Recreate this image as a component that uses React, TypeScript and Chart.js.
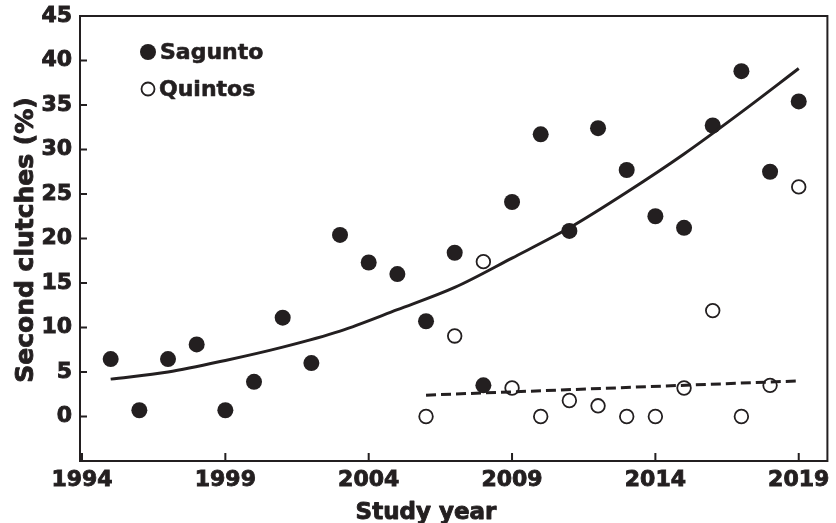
import React, { useEffect, useRef } from 'react';
import { Chart, registerables } from 'chart.js';

Chart.register(...registerables);

// ---- Data ----
const saguntoYears = [1995, 1996, 1997, 1998, 1999, 2000, 2001, 2002, 2003, 2004, 2005, 2006, 2007, 2008, 2009, 2010, 2011, 2012, 2013, 2014, 2015, 2016, 2017, 2018, 2019];
const saguntoValues = [6.45, 0.7, 6.45, 8.1, 0.7, 3.9, 11.1, 6.0, 20.4, 17.3, 16.0, 10.7, 18.4, 3.5, 24.1, 31.7, 20.85, 32.4, 27.7, 22.5, 21.2, 32.7, 38.8, 27.5, 35.4];

const quintosYears = [2006, 2007, 2008, 2009, 2010, 2011, 2012, 2013, 2014, 2015, 2016, 2017, 2018, 2019];
const quintosValues = [0, 9.05, 17.4, 3.2, 0, 1.8, 1.2, 0, 0, 3.2, 11.9, 0, 3.5, 25.8];

const saguntoTrendYears = [1995, 1997, 1999, 2001, 2003, 2005, 2007, 2009, 2011, 2013, 2015, 2017, 2019];
const saguntoTrendValues = [4.2, 5.0, 6.3, 7.8, 9.6, 12.0, 14.5, 17.8, 21.2, 25.2, 29.5, 34.2, 39.1];

const quintosTrendYears = [2006, 2019];
const quintosTrendValues = [2.4, 4.0];

const xTickValues = [1994, 1999, 2004, 2009, 2014, 2019];
const yTickValues = [-5, 0, 5, 10, 15, 20, 25, 30, 35, 40, 45];

const seriesLabels = ['Sagunto', 'Quintos'];
const xTitle = 'Study year';
const yTitle = 'Second clutches (%)';

const INK = '#231f20';
const FONT = '"DejaVu Sans", sans-serif';

const toPoints = (xs: number[], ys: number[]) => xs.map((x, i) => ({ x, y: ys[i] }));

const heavyText = (ctx: CanvasRenderingContext2D, text: string, x: number, y: number, w = 0.9) => {
  ctx.lineWidth = w;
  ctx.lineJoin = 'round';
  ctx.strokeText(text, x, y);
  ctx.fillText(text, x, y);
};

const decorPlugin = {
  id: 'decor',
  afterDatasetsDraw(chart: any) {
    const { ctx, chartArea } = chart;
    const xs = chart.scales.x;
    const ys = chart.scales.y;
    ctx.save();
    ctx.strokeStyle = INK;
    ctx.lineWidth = 2;
    ctx.strokeRect(chartArea.left, chartArea.top, chartArea.right - chartArea.left, chartArea.bottom - chartArea.top);
    ctx.beginPath();
    xTickValues.forEach((v) => {
      const px = xs.getPixelForValue(v);
      ctx.moveTo(px, chartArea.bottom);
      ctx.lineTo(px, chartArea.bottom - 8);
    });
    yTickValues.forEach((v) => {
      const py = ys.getPixelForValue(v);
      ctx.moveTo(chartArea.left, py);
      ctx.lineTo(chartArea.left + 7, py);
    });
    ctx.stroke();
    ctx.restore();
  },
  afterDraw(chart: any) {
    const { ctx, chartArea } = chart;
    ctx.save();
    ctx.fillStyle = INK;
    ctx.strokeStyle = INK;
    // legend
    const lx = chartArea.left + 68;
    const ly1 = chartArea.top + 36;
    const ly2 = chartArea.top + 73;
    ctx.beginPath();
    ctx.arc(lx, ly1, 8, 0, Math.PI * 2);
    ctx.fill();
    ctx.beginPath();
    ctx.lineWidth = 1.8;
    ctx.arc(lx, ly2, 6.5, 0, Math.PI * 2);
    ctx.stroke();
    ctx.font = `bold 22px ${FONT}`;
    ctx.textAlign = 'left';
    ctx.textBaseline = 'middle';
    heavyText(ctx, seriesLabels[0], lx + 12, ly1 + 1, 0.6);
    heavyText(ctx, seriesLabels[1], lx + 11, ly2 + 1, 0.6);
    // axis titles
    ctx.font = `bold 23px ${FONT}`;
    ctx.textAlign = 'center';
    ctx.textBaseline = 'alphabetic';
    heavyText(ctx, xTitle, 426, 519);
    ctx.font = `bold 25px ${FONT}`;
    ctx.translate(33, 240);
    ctx.rotate(-Math.PI / 2);
    heavyText(ctx, yTitle, 0, 0);
    ctx.restore();
  },
};

export default function App() {
  const canvasRef = useRef<HTMLCanvasElement | null>(null);

  useEffect(() => {
    if (!canvasRef.current) return;
    const chart = new Chart(canvasRef.current, {
      type: 'scatter',
      data: {
        datasets: [
          {
            label: 'Sagunto trend',
            data: toPoints(saguntoTrendYears, saguntoTrendValues),
            showLine: true,
            borderColor: INK,
            borderWidth: 3,
            pointRadius: 0,
            cubicInterpolationMode: 'monotone',
            fill: false,
          },
          {
            label: 'Quintos trend',
            data: toPoints(quintosTrendYears, quintosTrendValues),
            showLine: true,
            borderColor: INK,
            borderWidth: 3,
            borderDash: [10, 5],
            pointRadius: 0,
            fill: false,
          },
          {
            label: seriesLabels[1],
            data: toPoints(quintosYears, quintosValues),
            pointRadius: 6.8,
            pointBackgroundColor: '#ffffff',
            pointBorderColor: INK,
            pointBorderWidth: 1.8,
            showLine: false,
          },
          {
            label: seriesLabels[0],
            data: toPoints(saguntoYears, saguntoValues),
            pointRadius: 8,
            pointBackgroundColor: INK,
            pointBorderColor: INK,
            pointBorderWidth: 0,
            showLine: false,
          },
        ],
      },
      options: {
        responsive: false,
        animation: false,
        layout: { padding: { top: 16, right: 5, left: 0, bottom: 0 } },
        plugins: {
          legend: { display: false },
          tooltip: { enabled: false },
        },
        scales: {
          x: {
            type: 'linear',
            min: 1993.93,
            max: 2020,
            afterBuildTicks: (scale: any) => {
              scale.ticks = xTickValues.map((v) => ({ value: v }));
            },
            afterFit: (scale: any) => {
              scale.height = 62;
              scale.paddingLeft = 0;
              scale.paddingRight = 0;
            },
            grid: { display: false, drawTicks: false },
            border: { display: false },
            ticks: {
              color: INK,
              font: { family: FONT, size: 22, weight: 'bold' },
              textStrokeColor: INK,
              textStrokeWidth: 0.9,
              padding: 6,
              autoSkip: false,
              maxRotation: 0,
              callback: (v: any) => String(v),
            },
          },
          y: {
            type: 'linear',
            min: -5,
            max: 45,
            afterBuildTicks: (scale: any) => {
              scale.ticks = yTickValues.map((v) => ({ value: v }));
            },
            afterFit: (scale: any) => {
              scale.width = 80;
              scale.paddingTop = 0;
              scale.paddingBottom = 0;
            },
            grid: { display: false, drawTicks: false },
            border: { display: false },
            ticks: {
              color: INK,
              font: { family: FONT, size: 22, weight: 'bold' },
              textStrokeColor: INK,
              textStrokeWidth: 0.9,
              padding: 8,
              autoSkip: false,
              callback: (v: any) => (v < 0 ? '' : String(v)),
            },
          },
        },
      },
      plugins: [decorPlugin],
    } as any);
    return () => chart.destroy();
  }, []);

  return (
    <div style={{ position: 'absolute', left: 0, top: 0, width: 836, height: 523, background: '#fff' }}>
      <canvas ref={canvasRef} width={836} height={523} />
    </div>
  );
}
